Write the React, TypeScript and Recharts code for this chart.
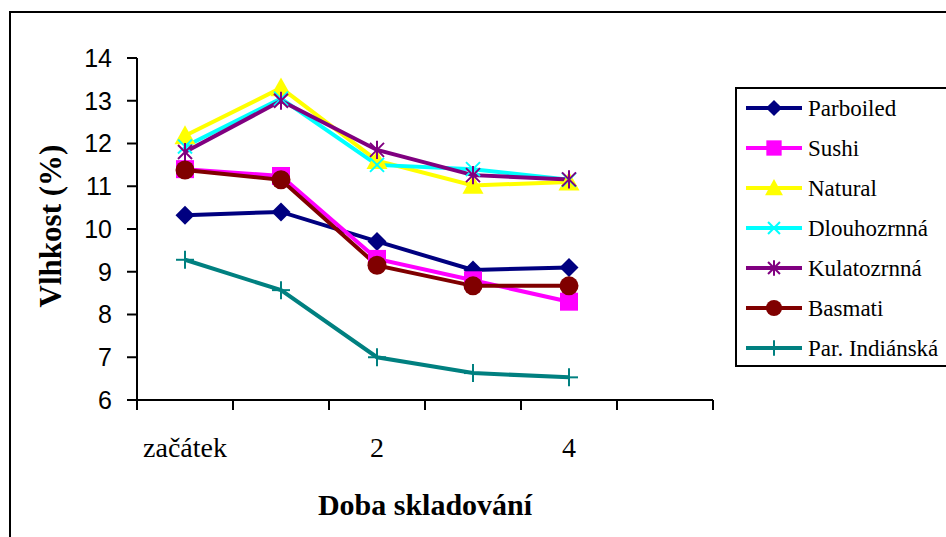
import React from 'react';
import { LineChart, Line, XAxis, YAxis, Legend, Label } from 'recharts';

const categories = ['začátek', '1', '2', '3', '4', '5'];
const parboiled = [10.32, 10.4, 9.71, 9.04, 9.1];
const sushi = [11.4, 11.24, 9.3, 8.8, 8.3];
const natural = [12.18, 13.3, 11.6, 11.02, 11.1];
const dlouhozrnna = [11.93, 13.05, 11.5, 11.4, 11.15];
const kulatozrnna = [11.8, 13.0, 11.85, 11.26, 11.16];
const basmati = [11.38, 11.15, 9.15, 8.67, 8.67];
const parIndianska = [9.28, 8.57, 7.0, 6.63, 6.53];
const yTicks = [6, 7, 8, 9, 10, 11, 12, 13, 14];
const xTitle = 'Doba skladování';
const yTitle = 'Vlhkost (%)';

const series = [
  { key: 'Parboiled', values: parboiled, color: '#000080', marker: 'diamond' },
  { key: 'Sushi', values: sushi, color: '#FF00FF', marker: 'square' },
  { key: 'Natural', values: natural, color: '#FFFF00', marker: 'triangle' },
  { key: 'Dlouhozrnná', values: dlouhozrnna, color: '#00FFFF', marker: 'x' },
  { key: 'Kulatozrnná', values: kulatozrnna, color: '#800080', marker: 'star' },
  { key: 'Basmati', values: basmati, color: '#800000', marker: 'circle' },
  { key: 'Par. Indiánská', values: parIndianska, color: '#008080', marker: 'plus' },
];

// category boundaries (0..n) for the tick marks between categories
const boundaries = [...categories.map((_, i) => i), categories.length];

const data = categories.map((c, i) => {
  const row: any = { cat: c, pos: i + 0.5 };
  series.forEach((s) => {
    row[s.key] = i < s.values.length ? s.values[i] : null;
  });
  return row;
});

const SERIF = "Liberation Serif, Times New Roman, serif";
const SANS = "Liberation Sans, Arial, sans-serif";

function Marker({ type, cx, cy, color, k = 1 }: any) {
  switch (type) {
    case 'diamond': {
      const s = 9.5 * k;
      return <polygon points={`${cx},${cy - s} ${cx + s},${cy} ${cx},${cy + s} ${cx - s},${cy}`} fill={color} />;
    }
    case 'square': {
      const s = 9 * k;
      return <rect x={cx - s} y={cy - s} width={2 * s} height={2 * s} fill={color} />;
    }
    case 'triangle': {
      const s = 10.5 * k;
      return <polygon points={`${cx},${cy - s} ${cx + s},${cy + s * 0.8} ${cx - s},${cy + s * 0.8}`} fill={color} />;
    }
    case 'x': {
      const s = 7 * k;
      return (
        <g stroke={color} strokeWidth={2}>
          <line x1={cx - s} y1={cy - s} x2={cx + s} y2={cy + s} />
          <line x1={cx - s} y1={cy + s} x2={cx + s} y2={cy - s} />
        </g>
      );
    }
    case 'star': {
      const s = 7 * k;
      return (
        <g stroke={color} strokeWidth={2}>
          <line x1={cx - s} y1={cy - s} x2={cx + s} y2={cy + s} />
          <line x1={cx - s} y1={cy + s} x2={cx + s} y2={cy - s} />
          <line x1={cx} y1={cy - s * 1.3} x2={cx} y2={cy + s * 1.3} />
        </g>
      );
    }
    case 'circle':
      return <circle cx={cx} cy={cy} r={9.5 * k} fill={color} />;
    case 'plus': {
      const s = 9 * k;
      return (
        <g stroke={color} strokeWidth={2}>
          <line x1={cx - s} y1={cy} x2={cx + s} y2={cy} />
          <line x1={cx} y1={cy - s} x2={cx} y2={cy + s} />
        </g>
      );
    }
    default:
      return null;
  }
}

const makeDot = (s: any) => (p: any) => {
  const key = `${s.key}-${p.index}`;
  if (p.cy == null || p.value == null || Number.isNaN(p.cy)) return <g key={key} />;
  return (
    <g key={key}>
      <Marker type={s.marker} cx={p.cx} cy={p.cy} color={s.color} />
    </g>
  );
};

const renderLegend = () => (
  <div
    style={{
      position: 'absolute',
      left: 735,
      top: 87,
      width: 240,
      height: 280,
      border: '2px solid #000',
      boxSizing: 'border-box',
      background: '#fff',
    }}
  >
    <svg width={240} height={280} style={{ position: 'absolute', left: -2, top: -2 }}>
      {series.map((s, i) => {
        const cy = 21 + i * 40;
        return (
          <g key={s.key}>
            <line x1={11} y1={cy} x2={67} y2={cy} stroke={s.color} strokeWidth={4} />
            <Marker type={s.marker} cx={39} cy={cy} color={s.color} k={0.85} />
            <text x={73} y={cy + 8} fontFamily={SERIF} fontSize={23} fill="#000">
              {s.key}
            </text>
          </g>
        );
      })}
    </svg>
  </div>
);

const renderYTitle = (props: any) => {
  const vb = props.viewBox || { x: 0, y: 58, width: 137, height: 342 };
  const x = vb.x + 61;
  const y = vb.y + vb.height / 2 - 3;
  return (
    <text
      x={x}
      y={y}
      transform={`rotate(-90 ${x} ${y})`}
      textAnchor="middle"
      fontFamily={SERIF}
      fontWeight="bold"
      fontSize={31}
      fill="#000"
    >
      {yTitle}
    </text>
  );
};

const renderXTitle = (props: any) => {
  const vb = props.viewBox || { x: 137, y: 410, width: 576, height: 70 };
  const x = vb.x + vb.width / 2;
  return (
    <text x={x} y={515} textAnchor="middle" fontFamily={SERIF} fontWeight="bold" fontSize={30} fill="#000">
      {xTitle}
    </text>
  );
};

const emptyTick = () => <g />;

export default function App() {
  return (
    <div style={{ position: 'absolute', left: 0, top: 0, width: 946, height: 537, overflow: 'hidden', background: '#fff' }}>
      <div
        style={{
          position: 'absolute',
          left: 9,
          top: 11,
          width: 1200,
          height: 800,
          border: '2px solid #000',
        }}
      />
      <div style={{ position: 'absolute', left: 0, top: 0 }}>
        <LineChart width={946} height={537} data={data} margin={{ top: 58, right: 233, left: 0, bottom: 57 }}>
          <XAxis
            xAxisId="a0"
            dataKey="pos"
            type="number"
            domain={[0, categories.length]}
            allowDataOverflow
            ticks={boundaries}
            interval={0}
            tick={emptyTick}
            tickSize={10}
            tickMargin={0}
            height={10}
            axisLine={{ stroke: '#000', strokeWidth: 2 }}
            tickLine={{ stroke: '#000', strokeWidth: 2 }}
          />
          <XAxis
            xAxisId="b1"
            dataKey="cat"
            type="category"
            scale="band"
            interval={1}
            axisLine={false}
            tickLine={false}
            tickSize={0}
            tickMargin={27}
            height={70}
            tick={{ fill: '#000', fontSize: 28, fontFamily: SERIF }}
          >
            <Label content={renderXTitle} />
          </XAxis>
          <YAxis
            width={137}
            domain={[6, 14]}
            ticks={yTicks}
            interval={0}
            allowDataOverflow
            tickSize={10}
            tickMargin={15}
            axisLine={{ stroke: '#000', strokeWidth: 2 }}
            tickLine={{ stroke: '#000', strokeWidth: 2 }}
            tick={{ fill: '#000', fontSize: 25, fontFamily: SANS }}
          >
            <Label content={renderYTitle} />
          </YAxis>
          <Legend
            layout="vertical"
            align="right"
            verticalAlign="top"
            wrapperStyle={{ left: 0, top: 0, width: 0, height: 0, overflow: 'visible' }}
            content={renderLegend}
          />
          {series.map((s) => (
            <Line
              key={s.key}
              xAxisId="b1"
              dataKey={s.key}
              name={s.key}
              stroke={s.color}
              strokeWidth={4}
              dot={makeDot(s)}
              activeDot={false}
              isAnimationActive={false}
              connectNulls={false}
            />
          ))}
        </LineChart>
      </div>
    </div>
  );
}
